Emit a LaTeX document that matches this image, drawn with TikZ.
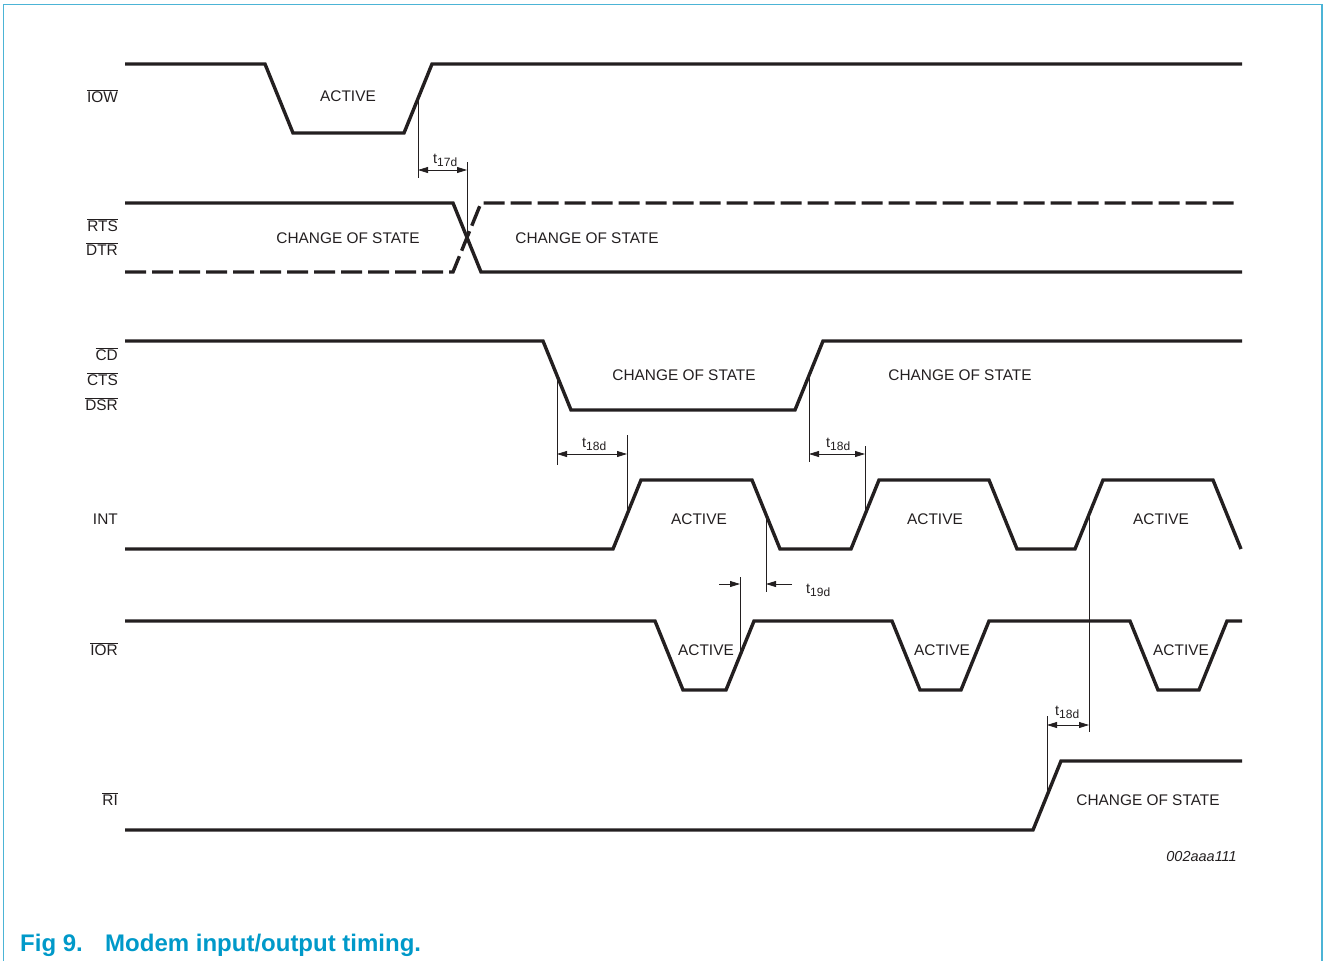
\documentclass[tikz,border=0pt]{standalone}
\usepackage{fontspec}
\setmainfont{Liberation Sans}
\usetikzlibrary{arrows.meta}
\definecolor{ink}{HTML}{231F20}
\definecolor{framecol}{HTML}{4CB4D6}
\definecolor{capblue}{HTML}{0099C9}
\newcommand\sigbar[1]{$\overline{\mbox{#1}}$}
\newcommand\tdim[1]{t\raisebox{-3.5pt}{\fontsize{12}{12}\selectfont #1}}
\begin{document}
\begin{tikzpicture}[x=1pt,y=-1pt,
  sig/.style={line width=3.4pt, draw=ink},
  dsig/.style={sig, dash pattern=on 21pt off 6pt},
  dimline/.style={line width=0.8pt, draw=ink},
  dimarrow/.style={dimline, {Triangle[length=10pt,width=6pt]}-{Triangle[length=10pt,width=6pt]}},
  onearrow/.style={dimline, -{Triangle[length=10pt,width=6pt]}},
  lab/.style={font=\fontsize{15.4}{18}\selectfont, text=ink, inner sep=0pt, anchor=base},
  namelab/.style={lab, anchor=base east},
  tlab/.style={font=\fontsize{14.5}{16}\selectfont, text=ink, inner sep=0pt, anchor=base west}]
\useasboundingbox (0,0) rectangle (1326,961);
% frame
\draw[framecol, line width=1.3pt] (3.5,961) -- (3.5,4.5) -- (1322,4.5) -- (1322,961);

% signals
\draw[sig] (125,64) -- (265,64) -- (293,133) -- (404,133) -- (432,64) -- (1242,64);
\draw[sig] (125,203) -- (453,203) -- (481,272) -- (1242,272);
\draw[dsig] (125,272) -- (453,272) -- (481,203) -- (1237,203);
\draw[sig] (125,341) -- (543,341) -- (571,410) -- (795,410) -- (823,341) -- (1242,341);
\draw[sig] (125,549) -- (613,549) -- (641,480) -- (752,480) -- (780,549) -- (851,549) -- (879,480) -- (989,480) -- (1017,549) -- (1075,549) -- (1103,480) -- (1213,480) -- (1241,549);
\draw[sig] (125,621) -- (655,621) -- (683,690) -- (726,690) -- (754,621) -- (892,621) -- (920,690) -- (961,690) -- (989,621) -- (1130,621) -- (1158,690) -- (1199,690) -- (1227,621) -- (1242,621);
\draw[sig] (125,830) -- (1033,830) -- (1061,761) -- (1242,761);

% signal names
\node[namelab] (niow) at (118,102) {\sigbar{IOW}};
\node[namelab] (nrts) at (118,231) {\sigbar{RTS}};
\node[namelab] (ndtr) at (118,255) {\sigbar{DTR}};
\node[namelab] (ncd) at (118,360) {\sigbar{CD}};
\node[namelab] (ncts) at (118,385) {\sigbar{CTS}};
\node[namelab] (ndsr) at (118,410) {\sigbar{DSR}};
\node[namelab] (nint) at (118,524) {INT};
\node[namelab] (nior) at (118,655) {\sigbar{IOR}};
\node[namelab] (nri) at (118,805) {\sigbar{RI}};

% state labels
\node[lab] (a1) at (348,101.5) {ACTIVE};
\node[lab] (c1) at (348,243) {CHANGE OF STATE};
\node[lab] (c2) at (587,243) {CHANGE OF STATE};
\node[lab] (c3) at (684,380) {CHANGE OF STATE};
\node[lab] (c4) at (960,380) {CHANGE OF STATE};
\node[lab] (a2) at (699,524) {ACTIVE};
\node[lab] (a3) at (935,524) {ACTIVE};
\node[lab] (a4) at (1161,524) {ACTIVE};
\node[lab] (a5) at (706,655) {ACTIVE};
\node[lab] (a6) at (942,655) {ACTIVE};
\node[lab] (a7) at (1181,655) {ACTIVE};
\node[lab] (c5) at (1148,805) {CHANGE OF STATE};

% edge reference points
\coordinate (iowup) at (418,98.5);
\coordinate (rtsx) at (467,237.5);
\coordinate (cddn) at (557,375.5);
\coordinate (cdup) at (809,375.5);
\coordinate (intup1) at (627,514.5);
\coordinate (intdn1) at (766,514.5);
\coordinate (intup2) at (865,514.5);
\coordinate (intup3) at (1089,514.5);
\coordinate (iorup1) at (740,655.5);
\coordinate (riup) at (1047,795.5);
% extension ends
\coordinate (e17a) at (418,178);
\coordinate (e17b) at (467,162);
\coordinate (e18a) at (557,465);
\coordinate (e18b) at (627,435);
\coordinate (e18c) at (809,462);
\coordinate (e18d) at (865,446);
\coordinate (e19a) at (740,577);
\coordinate (e19b) at (766,592);
\coordinate (e18e) at (1089,732);
\coordinate (e18f) at (1047,716);

% t17d
\draw[dimline] (iowup) -- (e17a);
\draw[dimline] (e17b) -- (rtsx);
\draw[dimarrow] (418,170) -- (467,170);
\node[tlab] (t17) at (433,163) {\tdim{17d}};
% t18d (1)
\draw[dimline] (cddn) -- (e18a);
\draw[dimline] (e18b) -- (intup1);
\draw[dimarrow] (557,454) -- (627,454);
\node[tlab] (t18a) at (582,447) {\tdim{18d}};
% t18d (2)
\draw[dimline] (cdup) -- (e18c);
\draw[dimline] (e18d) -- (intup2);
\draw[dimarrow] (809,454) -- (865,454);
\node[tlab] (t18b) at (826,447) {\tdim{18d}};
% t19d
\draw[dimline] (e19a) -- (iorup1);
\draw[dimline] (intdn1) -- (e19b);
\draw[onearrow] (719,584) -- (740,584);
\draw[onearrow] (792,584) -- (766,584);
\node[tlab] (t19) at (806,593) {\tdim{19d}};
% t18d (3)
\draw[dimline] (intup3) -- (e18e);
\draw[dimline] (e18f) -- (riup);
\draw[dimarrow] (1047,725) -- (1089,725);
\node[tlab] (t18c) at (1055,715) {\tdim{18d}};

% figure id and caption
\node[font=\fontsize{14.5}{16}\selectfont\itshape, text=ink, inner sep=0pt, anchor=base east] (fid) at (1237,861) {002aaa111};
\node[font=\fontsize{24}{26}\selectfont\bfseries, text=capblue, inner sep=0pt, anchor=base west] (capa) at (20,951) {Fig 9.};
\node[font=\fontsize{24}{26}\selectfont\bfseries, text=capblue, inner sep=0pt, anchor=base west] (capb) at (105,951) {Modem input/output timing.};
\end{tikzpicture}
\end{document}
